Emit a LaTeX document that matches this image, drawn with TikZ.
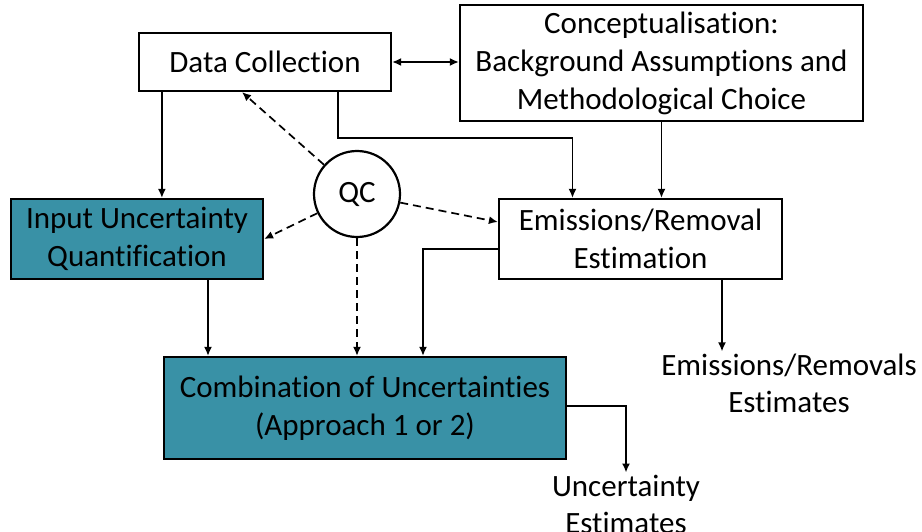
\documentclass[tikz,border=0pt]{standalone}
\usepackage{fontspec}
\setmainfont{Carlito}[Ligatures={NoCommon}]
\usepackage{xcolor}
\usetikzlibrary{positioning, calc, arrows.meta}
\definecolor{qteal}{RGB}{57,145,166}
\tikzset{block/.style={draw, line width=2.2pt, align=center, inner sep=0pt, font=\fontsize{31}{38}\selectfont},
tblock/.style={block, fill=qteal},
txt/.style={align=center, inner sep=2pt, font=\fontsize{31}{37}\selectfont},
line/.style={-{Latex[length=9pt,width=8pt]}, line width=1.7pt},
dline/.style={line, dash pattern=on 8pt off 5pt}
}
\begin{document}
\begin{tikzpicture}[x=1pt,y=-1pt]
\useasboundingbox (0,0) rectangle (922,532);
\node[block, minimum width=252pt, minimum height=58pt] (dc) at (265,62) {Data Collection};
\node[block, minimum width=403pt, minimum height=116pt] (concept) at (661.5,63) {Conceptualisation:\\Background Assumptions and\\Methodological Choice};
\node[tblock, minimum width=252pt, minimum height=80pt] (iuq) at (137,239) {Input Uncertainty\\Quantification};
\node[draw, circle, line width=2.2pt, minimum size=86pt, inner sep=0pt, font=\fontsize{31}{38}\selectfont] (qc) at (357,194) {QC};
\node[block, minimum width=283pt, minimum height=80pt] (emr) at (640.5,239) {Emissions/Removal\\Estimation};
\node[tblock, minimum width=402pt, minimum height=102pt] (comb) at (365,408) {Combination of Uncertainties\\(Approach 1 or 2)};
 % outputs
\node[txt] (emrest) at (789,383) {Emissions/Removals\\Estimates};
\node[txt] (uncest) at (626,504) {Uncertainty\\Estimates};
 % solid flows
\draw[{Latex[length=9pt,width=8pt]}-{Latex[length=9pt,width=8pt]}, line width=1.7pt] (dc.east) -- (dc.east -| concept.west);
\draw[line] ([xshift=24pt]dc.south west) -- ([xshift=24pt]dc.south west |- iuq.north);
\draw[line] ([xshift=-54pt]dc.south east) -- ++(0,46) -| ([xshift=-68pt]emr.north);
\draw[line] (concept.south) -- (concept.south |- emr.north);
\draw[line] ([xshift=71pt]iuq.south) -- ([xshift=71pt]iuq.south |- comb.north);
\draw[line] ([yshift=-10pt]emr.west) -| ([xshift=58pt]comb.north);
\draw[line] ([xshift=81.5pt]emr.south) -- ([xshift=81.5pt]emr.south |- emrest.north);
\draw[line] ([yshift=2pt]comb.east) -| (uncest.north);
 % quality control
\draw[dline] (qc) -- ([xshift=-23pt]dc.south);
\draw[dline] (qc) -- (iuq.east);
\draw[dline] (qc) -- ([yshift=17pt]emr.west);
\draw[dline] (qc.south) -- (qc.south |- comb.north);
\end{tikzpicture}
\end{document}
